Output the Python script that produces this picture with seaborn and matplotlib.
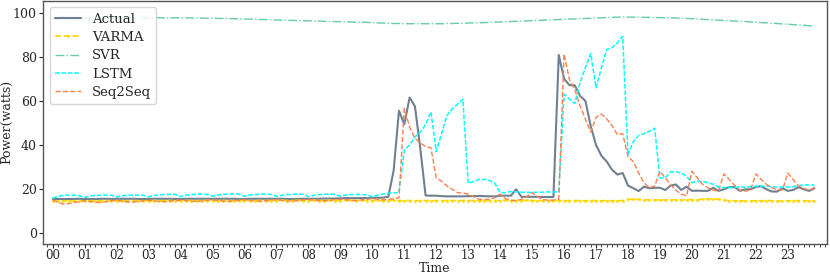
import numpy as np
import pandas as pd
import matplotlib
matplotlib.use("Agg")
import matplotlib.pyplot as plt
import seaborn as sns
from matplotlib.ticker import MultipleLocator

# 10-minute samples over one day (144 points), values in watts
hours = [f"{h:02d}" for h in range(24)]

actual = [
    15.4, 15.4, 15.4, 15.4, 15.4, 15.5, 15.4, 15.4, 15.4, 15.5, 15.5, 15.4,
    15.5, 15.5, 15.5, 15.5, 15.4, 15.4, 15.4, 15.5, 15.5, 15.5, 15.5, 15.4,
    15.4, 15.5, 15.5, 15.5, 15.5, 15.5, 15.5, 15.5, 15.5, 15.5, 15.5, 15.4,
    15.4, 15.5, 15.5, 15.5, 15.5, 15.5, 15.5, 15.5, 15.4, 15.4, 15.4, 15.5,
    15.5, 15.5, 15.5, 15.6, 15.6, 15.6, 15.7, 15.8, 15.8, 15.8, 15.8, 15.8,
    15.9, 16.0, 16.0, 16.4, 28.3, 55.5, 49.3, 61.5, 57.5, 38.4, 17.0, 16.9,
    16.9, 16.7, 16.6, 16.6, 16.6, 16.6, 16.7, 16.7, 16.8, 16.7, 16.6, 16.6,
    16.9, 16.9, 16.9, 19.8, 16.4, 16.4, 16.4, 16.4, 16.3, 16.3, 16.3, 80.8,
    70.0, 67.1, 67.0, 62.2, 60.0, 48.5, 39.9, 35.1, 32.4, 28.7, 26.5, 27.2,
    21.5, 20.3, 19.0, 21.0, 20.3, 20.5, 20.5, 19.5, 21.5, 22.0, 19.5, 21.0,
    19.1, 19.2, 19.1, 19.1, 20.5, 19.1, 19.8, 20.8, 20.8, 19.1, 19.8, 19.8,
    20.9, 21.2, 19.8, 18.8, 18.8, 20.3, 19.1, 19.5, 20.8, 19.8, 19.1, 20.3,
]

varma = [
    14.3, 14.5, 14.6, 14.5, 14.6, 14.6, 14.5, 14.6, 14.6, 14.5, 14.6, 14.7,
    14.6, 14.5, 14.6, 14.6, 14.7, 14.6, 14.6, 14.7, 14.6, 14.6, 14.7, 14.7,
    14.6, 14.7, 14.7, 14.6, 14.7, 14.7, 14.7, 14.6, 14.7, 14.7, 14.6, 14.7,
    14.7, 14.6, 14.7, 14.7, 14.7, 14.6, 14.7, 14.8, 14.7, 14.7, 14.8, 14.7,
    14.7, 14.8, 14.7, 14.7, 14.8, 14.7, 14.7, 14.8, 14.8, 14.7, 14.8, 14.7,
    14.7, 14.8, 14.7, 14.7, 14.8, 14.7, 14.7, 14.7, 14.6, 14.7, 14.7, 14.6,
    14.7, 14.6, 14.7, 14.7, 14.7, 14.7, 14.7, 14.7, 14.7, 14.6, 14.7, 14.7,
    14.7, 14.8, 14.7, 14.7, 14.7, 14.8, 14.7, 14.7, 14.7, 14.6, 14.7, 14.7,
    14.6, 14.7, 14.7, 14.7, 14.6, 14.7, 14.7, 14.6, 14.7, 14.6, 14.6, 14.7,
    15.2, 15.3, 15.2, 15.0, 15.0, 15.0, 15.0, 15.0, 15.1, 15.0, 15.0, 15.1,
    15.1, 15.1, 15.3, 15.5, 15.5, 15.3, 15.0, 14.6, 14.6, 14.5, 14.6, 14.6,
    14.6, 14.6, 14.7, 14.6, 14.5, 14.6, 14.6, 14.6, 14.7, 14.6, 14.6, 14.6,
]

svr = [
    97.0, 97.1, 97.2, 97.3, 97.3, 97.4, 97.4, 97.5, 97.5, 97.5, 97.6, 97.6,
    97.6, 97.6, 97.7, 97.7, 97.7, 97.7, 97.7, 97.7, 97.7, 97.7, 97.7, 97.7,
    97.7, 97.7, 97.6, 97.6, 97.6, 97.5, 97.5, 97.4, 97.4, 97.3, 97.3, 97.2,
    97.1, 97.1, 97.0, 96.9, 96.9, 96.8, 96.7, 96.6, 96.6, 96.5, 96.4, 96.4,
    96.3, 96.2, 96.2, 96.1, 96.0, 96.0, 95.9, 95.9, 95.8, 95.7, 95.7, 95.6,
    95.5, 95.4, 95.3, 95.2, 95.1, 95.1, 95.0, 95.0, 95.0, 95.0, 95.0, 95.0,
    95.0, 95.0, 95.1, 95.1, 95.2, 95.2, 95.3, 95.4, 95.4, 95.5, 95.6, 95.7,
    95.8, 95.9, 96.0, 96.1, 96.2, 96.3, 96.4, 96.5, 96.6, 96.7, 96.8, 96.9,
    97.0, 97.1, 97.2, 97.3, 97.4, 97.5, 97.6, 97.7, 97.8, 97.9, 98.0, 98.0,
    98.0, 98.0, 98.0, 97.9, 97.9, 97.8, 97.8, 97.7, 97.7, 97.6, 97.5, 97.4,
    97.3, 97.2, 97.0, 96.9, 96.8, 96.6, 96.5, 96.4, 96.2, 96.1, 96.0, 95.8,
    95.7, 95.5, 95.4, 95.2, 95.1, 94.9, 94.8, 94.6, 94.4, 94.3, 94.1, 93.9,
]

lstm = [
    15.8, 16.6, 17.1, 17.2, 17.1, 16.9, 16.1, 16.8, 17.0, 17.1, 17.2, 17.1,
    16.4, 16.9, 17.1, 17.2, 17.1, 17.1, 16.4, 17.0, 17.3, 17.4, 17.5, 17.5,
    16.5, 17.1, 17.4, 17.5, 17.6, 17.5, 16.7, 17.2, 17.5, 17.6, 17.7, 17.6,
    16.6, 17.2, 17.4, 17.6, 17.6, 17.5, 16.6, 17.1, 17.4, 17.5, 17.6, 17.5,
    16.5, 17.1, 17.4, 17.5, 17.6, 17.5, 16.7, 17.2, 17.4, 17.5, 17.4, 17.3,
    16.4, 17.2, 17.6, 18.0, 18.2, 18.3, 37.6, 39.9, 43.6, 45.8, 49.1, 55.0,
    36.9, 45.1, 53.3, 56.3, 58.5, 60.7, 22.5, 23.3, 24.3, 24.3, 23.8, 22.5,
    18.3, 18.3, 18.8, 18.6, 18.5, 18.4, 18.4, 18.5, 18.5, 18.6, 18.6, 18.6,
    63.0, 60.7, 58.8, 68.2, 75.0, 81.5, 65.9, 74.9, 83.3, 84.1, 86.3, 89.3,
    35.4, 41.4, 44.3, 45.1, 46.1, 47.6, 25.0, 25.0, 27.7, 27.8, 27.2, 25.7,
    22.8, 23.5, 23.4, 22.8, 22.1, 20.8, 20.6, 20.6, 20.6, 20.8, 20.8, 21.0,
    21.2, 21.2, 21.2, 21.0, 20.8, 20.8, 20.8, 21.0, 21.5, 21.8, 21.8, 21.7,
]

seq2seq = [
    15.0, 13.8, 13.1, 13.3, 13.8, 14.2, 14.6, 14.3, 13.9, 13.8, 14.2, 14.6,
    14.8, 14.5, 14.1, 14.0, 14.3, 14.6, 14.8, 14.6, 14.3, 14.2, 14.5, 14.7,
    14.9, 14.7, 14.4, 14.3, 14.5, 14.8, 15.0, 14.8, 14.4, 14.3, 14.6, 14.8,
    15.0, 14.8, 14.4, 14.4, 14.6, 14.9, 15.1, 14.8, 14.5, 14.5, 14.7, 15.0,
    15.2, 14.9, 14.6, 14.6, 14.8, 15.1, 15.3, 15.1, 14.8, 14.7, 15.0, 15.3,
    15.6, 15.3, 15.0, 15.2, 15.6, 16.0, 56.5, 48.1, 42.9, 40.9, 39.1, 38.7,
    25.0, 23.5, 21.3, 19.8, 18.3, 18.1, 17.6, 16.5, 15.3, 15.1, 15.3, 16.0,
    17.6, 15.6, 14.9, 14.6, 15.3, 16.5, 18.3, 16.5, 15.1, 14.9, 14.9, 15.3,
    81.3, 69.6, 65.2, 57.7, 51.8, 45.8, 52.5, 54.0, 51.8, 48.8, 44.6, 45.1,
    34.7, 32.4, 27.2, 22.8, 20.5, 21.3, 28.0, 25.0, 22.0, 19.4, 17.6, 16.8,
    28.0, 25.0, 22.0, 20.5, 19.4, 19.0, 26.8, 24.3, 21.7, 19.4, 19.0, 19.5,
    26.8, 24.3, 22.0, 20.5, 19.7, 19.4, 27.2, 24.3, 21.3, 20.2, 19.4, 20.5,
]

sns.set_style("ticks")
plt.rcParams["font.family"] = ["DejaVu Serif"]
plt.rcParams["font.size"] = 9

t = np.arange(len(actual))
df = pd.DataFrame({"t": t, "Actual": actual, "VARMA": varma, "SVR": svr,
                   "LSTM": lstm, "Seq2Seq": seq2seq})

fig, ax = plt.subplots(figsize=(8.3, 2.75), dpi=100)
fig.subplots_adjust(left=0.052, right=0.996, top=0.997, bottom=0.113)

sns.lineplot(data=df, x="t", y="Actual", ax=ax, color="slategray", lw=1.5, label="Actual")
sns.lineplot(data=df, x="t", y="VARMA", ax=ax, color="gold", lw=1.2, ls="--",
             marker=".", markersize=4, markeredgewidth=0, label="VARMA")
sns.lineplot(data=df, x="t", y="SVR", ax=ax, color="mediumaquamarine", lw=1, ls="-.", label="SVR")
sns.lineplot(data=df, x="t", y="LSTM", ax=ax, color="cyan", lw=1.1, ls=(0, (3, 1.2)), label="LSTM")
sns.lineplot(data=df, x="t", y="Seq2Seq", ax=ax, color="coral", lw=1, ls="--", label="Seq2Seq")

ax.set_xlim(-1.8, 145.3)
ax.set_ylim(-5, 105.4)
ax.set_xticks(np.arange(0, 144, 6))
ax.set_xticklabels(hours)
ax.xaxis.set_minor_locator(MultipleLocator(1))
ax.set_yticks([0, 20, 40, 60, 80, 100])
ax.tick_params(axis="y", which="major", length=3, width=0.8, labelsize=9, pad=1.5)
ax.tick_params(axis="x", which="major", length=3, width=0.8, labelsize=8.5, pad=1)
ax.tick_params(axis="x", which="minor", length=2, width=0.6)
ax.set_xlabel("Time", fontsize=9, labelpad=0)
ax.set_ylabel("Power(watts)", fontsize=9, labelpad=0)
for s in ax.spines.values():
    s.set_color("#555555")
    s.set_linewidth(1)

ax.legend(loc="upper left", fontsize=9.5, handlelength=2.0, labelspacing=0.4,
          borderaxespad=0.5, framealpha=0.8)

fig.savefig("out.png", dpi=100)
